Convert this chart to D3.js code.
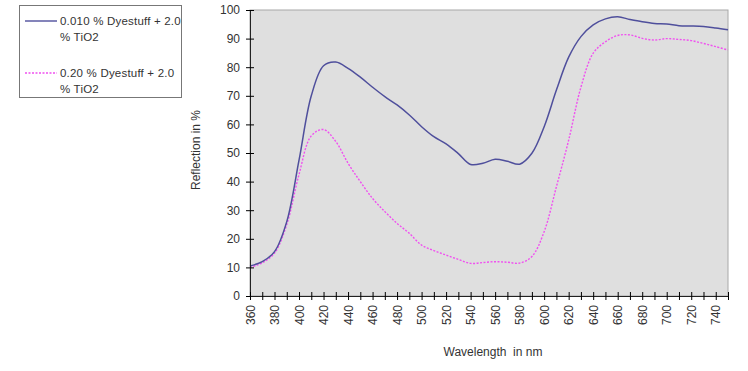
<!DOCTYPE html>
<html>
<head>
<meta charset="utf-8">
<script src="https://cdn.jsdelivr.net/npm/d3@7"></script>
<style>
  body { margin: 0; background: #fff; }
  text { font-family: "Liberation Sans", Arial, sans-serif; }
</style>
</head>
<body>
<div id="container"></div>
<script>
// wavelengths in nm
var wavelengths = [360, 370, 380, 390, 400, 410, 420, 430, 440, 450, 460, 470, 480, 490, 500,
  510, 520, 530, 540, 550, 560, 570, 580, 590, 600, 610, 620, 630, 640, 650, 660, 670, 680,
  690, 700, 710, 720, 730, 740, 750];

// 0.010 % Dyestuff + 2.0 % TiO2
var lowDye = [10.5, 12, 15.5, 26, 47.5, 70, 80.5, 81.8, 79.6, 76.5, 73, 69.7, 66.8, 63.3, 59.2,
  55.7, 53.2, 49.8, 46, 46.4, 47.8, 47.1, 46.1, 49.9, 59.2, 72, 83.5, 90.7, 94.8, 96.9, 97.6,
  96.7, 95.9, 95.3, 95.1, 94.5, 94.4, 94.2, 93.7, 93.1];

// 0.20 % Dyestuff + 2.0 % TiO2
var highDye = [10, 11.6, 15, 25, 42.5, 56, 58.2, 54, 46.4, 40, 34.1, 29.5, 25.4, 21.9, 17.8,
  15.9, 14.3, 12.8, 11.4, 11.7, 12, 11.8, 11.5, 13.8, 22.5, 38.2, 54.5, 73, 84.9, 88.9, 91.1,
  91.3, 90.1, 89.5, 90, 89.7, 89.3, 88.3, 87.2, 86];

var seriesNames = ["0.010 % Dyestuff + 2.0 % TiO2", "0.20 % Dyestuff + 2.0 % TiO2"];
var xLabelTicks = d3.range(360, 741, 20);
var xMinorTicks = d3.range(360, 751, 10);
var yTicks = d3.range(0, 101, 10);

var W = 748, H = 371;
var m = { left: 250, top: 10, right: 20, bottom: 75 };

var svg = d3.select('#container').append('svg')
  .attr('width', W).attr('height', H);

var x = d3.scaleLinear().domain([360, 750]).range([m.left, 728]);
var y = d3.scaleLinear().domain([0, 100]).range([296, m.top]);

// plot area
svg.append('rect')
  .attr('x', x(360)).attr('y', y(100))
  .attr('width', x(750) - x(360)).attr('height', y(0) - y(100))
  .attr('fill', '#dfdfdf')
  .attr('stroke', '#a8a8a8').attr('stroke-width', 1);

// lines
var line = function(vals) {
  return d3.line()
    .x(function(d, i) { return x(wavelengths[i]); })
    .y(function(d) { return y(d); })
    .curve(d3.curveCatmullRom.alpha(0.5))(vals);
};

svg.append('path').attr('d', line(highDye))
  .attr('fill', 'none').attr('stroke', '#f050f0').attr('stroke-width', 1.4)
  .attr('stroke-dasharray', '2,1.5');
svg.append('path').attr('d', line(lowDye))
  .attr('fill', 'none').attr('stroke', '#4f4f9c').attr('stroke-width', 1.5);

// y axis
var yAxis = svg.append('g').attr('transform', 'translate(' + x(360) + ',0)')
  .call(d3.axisLeft(y).tickValues(yTicks).tickSize(4).tickPadding(6).tickSizeOuter(0));
yAxis.selectAll('.tick line').attr('x2', 4).attr('x1', -4);
yAxis.select('.domain').attr('stroke', '#222');
yAxis.selectAll('text').attr('font-size', 12).attr('fill', '#333')
  .attr('font-family', '"Liberation Sans", Arial, sans-serif');

// x axis
var xAxis = svg.append('g').attr('transform', 'translate(0,' + y(0) + ')')
  .call(d3.axisBottom(x).tickValues(xMinorTicks).tickSize(4).tickSizeOuter(0)
    .tickFormat(function(d) { return xLabelTicks.indexOf(d) >= 0 ? d : ''; }));
xAxis.selectAll('.tick line').attr('y1', -4).attr('y2', 4);
xAxis.select('.domain').attr('stroke', '#222');
xAxis.selectAll('text')
  .attr('font-size', 12).attr('fill', '#333')
  .attr('font-family', '"Liberation Sans", Arial, sans-serif')
  .attr('transform', 'rotate(-90)')
  .attr('text-anchor', 'end')
  .attr('x', -9).attr('y', 0).attr('dy', '0.35em');

// axis titles
svg.append('text').attr('x', 493).attr('y', 356)
  .attr('text-anchor', 'middle').attr('font-size', 12).attr('fill', '#333')
  .text('Wavelength  in nm').style('white-space', 'pre');
svg.append('text')
  .attr('transform', 'translate(200,150) rotate(-90)')
  .attr('text-anchor', 'middle').attr('font-size', 12).attr('fill', '#333')
  .text('Reflection in %');

// legend
var leg = svg.append('g');
leg.append('rect').attr('x', 19.5).attr('y', 5.5).attr('width', 162).attr('height', 92)
  .attr('fill', '#fff').attr('stroke', '#777').attr('stroke-width', 1);
var legItems = [
  { name: seriesNames[0], color: '#4f4f9c', dash: null, ly: 21 },
  { name: seriesNames[1], color: '#f050f0', dash: '2,1.5', ly: 73 }
];
legItems.forEach(function(d) {
  leg.append('line').attr('x1', 25).attr('x2', 57).attr('y1', d.ly).attr('y2', d.ly)
    .attr('stroke', d.color).attr('stroke-width', 1.4).attr('stroke-dasharray', d.dash);
  var parts = d.name.split(' % TiO2');
  var t = leg.append('text').attr('font-size', 11.5).attr('fill', '#333')
    .attr('letter-spacing', 0.2);
  t.append('tspan').attr('x', 60).attr('y', d.ly + 4).text(parts[0]);
  t.append('tspan').attr('x', 60).attr('y', d.ly + 20).text('% TiO2');
});
</script>
</body>
</html>
